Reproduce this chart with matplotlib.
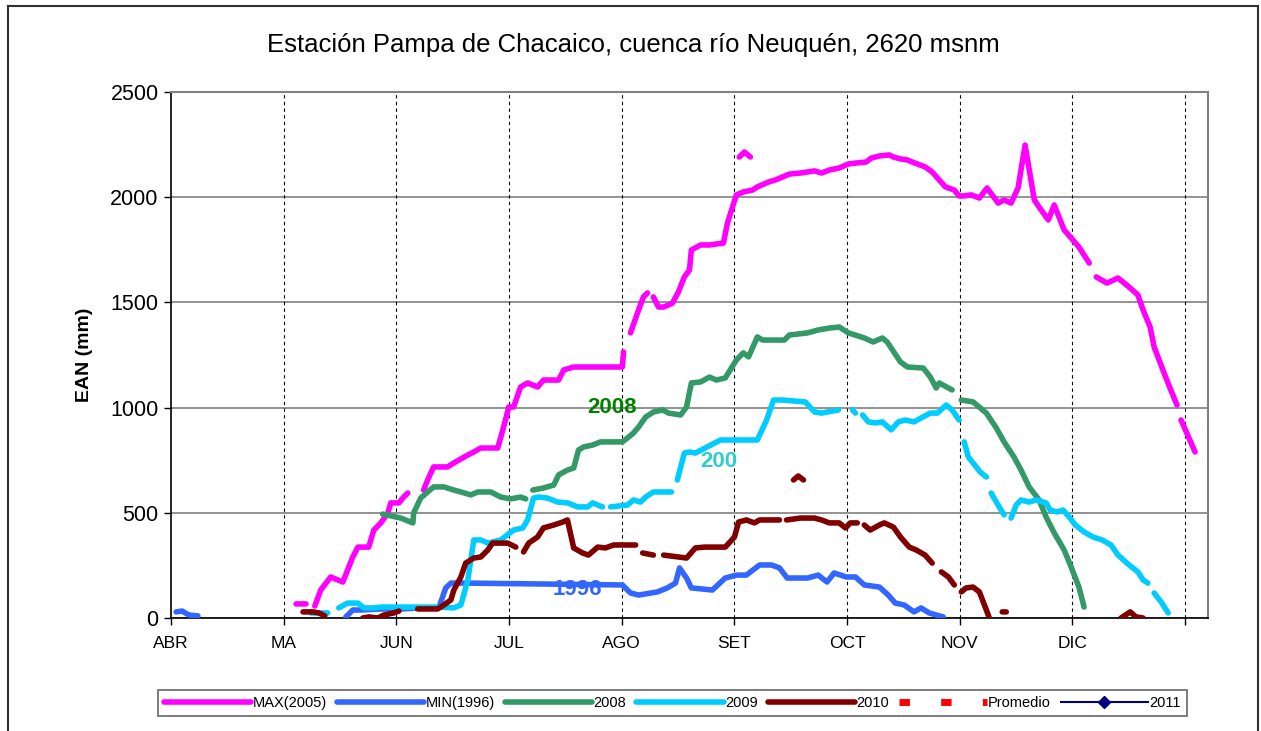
import numpy as np
import matplotlib.pyplot as plt
from matplotlib.lines import Line2D

n = np.nan

# x = days since 1 April, y = EAN (mm); nan = gap in the series
max_dias = [33.9, 36.6, n,
            39.0, 40.6, 43.3, 46.6, 49.3, 50.7, 53.6, 55.0, 56.9, 58.8, 59.6, 61.8, 63.1, 64.2, n,
            68.5, 69.6, 71.2, 75.0, 76.7, 80.5, 82.1, 84.0, 88.6, 90.2, 91.6, 92.9, 94.8, 96.7, 99.4,
            101.0, 105.1, 106.5, 109.2, 122.4, 122.7, n,
            124.6, 126.5, 128.1, 129.2, n,
            130.8, 132.2, 133.6, 136.0, 137.6, 139.2, 140.6, 141.1, 143.6, 146.0, 149.8, 150.9, 153.3,
            155.2, 157.7, 159.0, 162.0, 163.9, 165.8, 167.7, 170.7, 174.5, 176.4, 178.5, 181.2, 183.7,
            186.1, 188.5, 189.9, 192.1, 194.8, 195.9, 197.8, 199.7, 201.6, 204.5, 206.4, 208.3, 210.0,
            212.4, 213.7, 215.1, 217.0, 219.2, 221.3, 224.3, 225.9, 227.8, 229.7, 231.6, 234.1, 235.4,
            237.9, 239.5, 242.2, 244.1, 246.2, 249.0, n,
            250.9, 253.8, 256.8, 259.8, 262.2, 263.6, 265.5, 266.6, 269.3, 270.9, 272.8, n,
            273.9, 277.7, n,
            154.1, 155.5, 157.1]
max_ean = [67, 67, n,
           57, 133, 195, 171, 290, 337, 337, 418, 452, 499, 547, 547, 575, 594, n,
           608, 656, 718, 718, 737, 775, 789, 808, 808, 908, 1003, 1003, 1098, 1117, 1098,
           1131, 1131, 1179, 1193, 1193, 1264, n,
           1355, 1450, 1526, 1545, n,
           1526, 1478, 1478, 1497, 1550, 1621, 1654, 1749, 1773, 1773, 1782, 1877, 2011,
           2025, 2034, 2049, 2072, 2082, 2096, 2110, 2115, 2125, 2115, 2129, 2139, 2158,
           2163, 2167, 2186, 2196, 2201, 2191, 2182, 2177, 2163, 2144, 2120, 2082, 2049,
           2034, 2006, 2006, 2011, 1996, 2044, 1972, 1987, 1972, 2044, 2248, 1987, 1953,
           1892, 1963, 1844, 1806, 1763, 1687, n,
           1621, 1592, 1616, 1573, 1535, 1464, 1383, 1288, 1164, 1093, 1012, n,
           941, 789, n,
           2191, 2215, 2191]

min_dias = [1.4, 3.0, 4.9, 7.3, n,
            47.4, 49.3, 51.5, 56.9, 62.3, 67.7, 72.6, 74.5, 75.9, 79.9, 122.4, 124.6, 126.8, 131.9,
            134.6, 136.8, 137.9, 139.8, 141.1, 146.8, 150.3, 153.3, 156.0, 159.6, 162.8, 165.0, 167.1,
            172.6, 175.5, 177.9, 179.8, 183.1, 185.6, 188.0, 192.1, 194.5, 196.4, 198.8, 201.5, 203.4,
            205.6, 209.4]
min_ean = [29, 33, 14, 10, n,
           5, 38, 38, 43, 43, 48, 48, 143, 166, 166, 157, 119, 109, 124,
           143, 166, 238, 190, 143, 133, 190, 204, 204, 252, 252, 238, 190,
           190, 204, 171, 214, 195, 195, 157, 147, 109, 71, 62, 29, 48,
           24, 5]

d2008_dias = [57.4, 62.3, 65.6, 65.8, 67.7, 69.6, 71.2, 74.0, 76.7, 78.6, 81.3, 83.2, 86.7, 89.4,
              92.1, 94.8, 96.2, n,
              98.1, 101.0, 103.8, 105.1, 107.5, 109.2, 110.5, 111.9, 114.3, 116.5, 122.4, 123.8, 125.4,
              126.8, 128.7, 130.8, 133.3, 134.9, 138.2, 139.8, 141.1, 143.6, 146.0, 147.9, 150.3, 153.3,
              155.2, 156.6, 159.0, 160.4, 166.3, 167.7, 172.6, 175.5, 178.5, 181.2, 183.7, 188.0, 190.4,
              192.9, 194.2, 197.8, 199.7, 204.0, 205.9, 207.5, 208.3, 211.8, n,
              214.3, 217.5, 221.1, 223.8, 225.9, 228.6, 230.5, 232.7, 235.4, 237.3, 239.5, 242.2, 244.1,
              246.2, 247.6]
d2008_ean = [494, 475, 452, 499, 570, 599, 623, 623, 608, 599, 585, 599, 599, 575,
             566, 575, 566, n,
             608, 618, 632, 680, 703, 713, 798, 813, 822, 837, 837, 856, 879,
             908, 955, 979, 989, 974, 965, 1003, 1117, 1122, 1145, 1131, 1141, 1226,
             1260, 1241, 1336, 1321, 1321, 1345, 1355, 1369, 1378, 1383, 1355, 1331, 1312,
             1331, 1312, 1217, 1193, 1188, 1145, 1093, 1117, 1084, n,
             1036, 1027, 974, 903, 837, 765, 703, 623, 561, 480, 404, 323, 242,
             147, 52]

d2009_dias = [37.9, 42.5, n,
              45.5, 47.9, 50.7, 52.3, 55.0, 56.9, 60.4, 66.9, 72.3, 76.7, 78.6, 80.5, 82.1, 84.0, 85.9,
              89.4, 92.9, 95.4, 96.7, 98.3, 99.7, 102.1, 104.8, 107.5, 110.3, 113.0, 114.3, 117.0, n,
              119.2, 123.8, 125.4, 127.3, 128.7, 130.8, 135.7, n,
              137.3, 139.2, 140.6, 142.2, 149.0, 159.0, 161.5, 163.4, 165.8, 172.0, 174.5, 176.4, 181.0, n,
              184.8, 185.6, n,
              187.5, 189.1, 191.0, 192.9, 195.3, 197.2, 199.1, 201.5, 203.4, 205.9, 207.8, 210.2, 211.8,
              213.7, n,
              215.1, 216.2, 217.5, 219.4, 221.1, n,
              222.4, 223.8, 225.9, n,
              227.8, 229.2, 230.5, 232.7, 234.6, 237.3, 238.4, 240.3, 241.9, 243.8, 245.2, 247.6, 250.0,
              252.5, 254.9, 256.8, 259.8, 262.2, 263.6, 264.9, n,
              266.6, 268.5, 270.4]
d2009_ean = [24, 24, n,
             48, 71, 71, 48, 48, 52, 52, 52, 52, 48, 62, 181, 371, 371, 356,
             371, 418, 428, 466, 570, 575, 570, 551, 547, 528, 528, 547, 528, n,
             528, 537, 561, 551, 575, 599, 599, n,
             656, 784, 789, 784, 846, 846, 941, 1036, 1036, 1027, 979, 974, 989, n,
             989, 974, n,
             965, 932, 927, 932, 894, 932, 941, 932, 951, 974, 974, 1012, 989,
             941, n,
             837, 765, 737, 694, 670, n,
             594, 551, 490, n,
             475, 537, 561, 551, 561, 547, 513, 504, 513, 475, 442, 409, 385,
             371, 347, 299, 252, 219, 181, 166, n,
             119, 76, 24]

d2010_dias = [35.8, 38.5, 40.1, 41.7, n,
              52.0, 53.6, 56.1, 57.7, 60.4, 61.8, n,
              66.9, 72.3, 74.0, 75.9, 76.7, 78.6, 79.9, 82.1, 84.0, 85.9, 87.2, 91.3, 93.5, n,
              95.6, 97.0, 99.4, 101.0, 103.8, 106.2, 107.5, 109.2, 111.6, 113.2, 115.7, 117.8, 120.0,
              126.0, n,
              127.9, 130.8, n,
              133.6, 139.8, 142.2, 144.7, 150.3, 152.8, 153.9, 156.0, 158.2, 159.6, 165.0, n,
              166.9, 170.7, 174.5, 176.4, 178.5, 181.2, 182.9, 184.2, 186.1, n,
              188.0, 189.6, 192.1, 193.4, 195.9, 197.8, 200.2, 202.1, 204.5, 206.4, n,
              208.9, 210.8, 212.4, n,
              214.3, 215.6, 217.5, 219.2, 221.1, 221.9, n,
              225.4, 226.5, n,
              257.6, 260.1, 261.7, 263.6, n,
              168.8, 170.1, 171.5]
d2010_ean = [29, 29, 24, 10, n,
             0, 5, 0, 14, 24, 33, n,
             43, 43, 62, 86, 133, 195, 261, 285, 290, 323, 356, 356, 337, n,
             314, 356, 385, 428, 442, 456, 466, 333, 309, 299, 337, 333, 347,
             347, n,
             309, 299, n,
             299, 285, 333, 337, 337, 385, 456, 466, 452, 466, 466, n,
             466, 475, 475, 466, 452, 452, 428, 452, 452, n,
             442, 418, 442, 452, 432, 385, 337, 323, 299, 261, n,
             219, 195, 157, n,
             124, 143, 147, 124, 38, 0, n,
             29, 29, n,
             0, 29, 5, 0, n,
             656, 675, 656]

meses = ['ABR', 'MA', 'JUN', 'JUL', 'AGO', 'SET', 'OCT', 'NOV', 'DIC', '']

plt.rcParams['font.family'] = ['Liberation Sans', 'DejaVu Sans']

fig = plt.figure(figsize=(12.61, 7.31), dpi=100)
ax = fig.add_axes([171/1261, 1 - 618/731, (1208 - 171)/1261, (618 - 92)/731])

lw = 4.0
kw = dict(lw=lw, solid_capstyle='round', solid_joinstyle='round')
ax.plot(max_dias, max_ean, color='#FF00FF', label='MAX(2005)', zorder=3, **kw)
ax.plot(min_dias, min_ean, color='#3366FF', label='MIN(1996)', zorder=3, **kw)
ax.plot(d2008_dias, d2008_ean, color='#339966', label='2008', zorder=3, **kw)
ax.plot(d2009_dias, d2009_ean, color='#00CCFF', label='2009', zorder=3, **kw)
ax.plot(d2010_dias, d2010_ean, color='#800000', label='2010', zorder=3, **kw)
ax.plot([], [], color='#FF0000', lw=5, ls=(0, (1.5, 4.5)), solid_capstyle='butt', label='Promedio')
ax.plot([], [], color='#000080', lw=1.5, marker='D', ms=6, label='2011')

# etiquetas de las series
ax.text(119.7, 1000, '2008', color='#008000', fontsize=16, fontweight='bold', ha='center', va='center', zorder=4)
ax.text(110.3, 137, '1996', color='#3366FF', fontsize=16, fontweight='bold', ha='center', va='center', zorder=2)
ax.text(148.5, 745, '200', color='#33CCCC', fontsize=16, fontweight='bold', ha='center', va='center', zorder=2)

ticks = np.arange(10) * 275 / 9
ax.set_xlim(0, 281.2)
ax.set_ylim(0, 2500)
ax.set_xticks(ticks)
ax.set_xticklabels(meses, fontsize=12.5)
ax.set_yticks(range(0, 2501, 500))
ax.tick_params(axis='y', labelsize=15.5, direction='out', length=5, width=1, pad=4)
ax.tick_params(axis='x', direction='out', length=5, width=1, pad=8)
for t in ticks[1:]:
    ax.axvline(t, color='black', lw=0.8, ls=(0, (3, 3)), zorder=1)
ax.grid(axis='y', color='#808080', lw=1.2, zorder=1)
ax.set_axisbelow(True)
for s in ['top', 'right']:
    ax.spines[s].set_color('#808080')
    ax.spines[s].set_linewidth(1.5)
for s in ['left', 'bottom']:
    ax.spines[s].set_color('black')
    ax.spines[s].set_linewidth(1.2)

ax.set_ylabel('EAN (mm)', fontsize=14, fontweight='bold', labelpad=12)
fig.text(633/1261, 1 - 45/731, 'Estación Pampa de Chacaico, cuenca río Neuquén, 2620 msnm',
         fontsize=18.5, ha='center', va='center')

leg = fig.legend(loc='lower left', ncol=7, mode='expand',
                 bbox_to_anchor=(158/1261, 1 - 716/731, (1187 - 158)/1261, 33/731),
                 fontsize=10.5, handlelength=6, handletextpad=0.1, columnspacing=0.6,
                 frameon=True, fancybox=False, borderaxespad=0)
leg.get_frame().set_edgecolor('#404040')
leg.get_frame().set_linewidth(1.2)

# marco exterior del gráfico
for xs, ys in [([8/1261, 8/1261], [0, 1 - 6/731]),
               ([8/1261, 1258/1261], [1 - 6/731, 1 - 6/731]),
               ([1258/1261, 1258/1261], [1 - 6/731, 0])]:
    fig.add_artist(Line2D(xs, ys, color='#303030', lw=1.5))

fig.savefig('out.png', dpi=100)
